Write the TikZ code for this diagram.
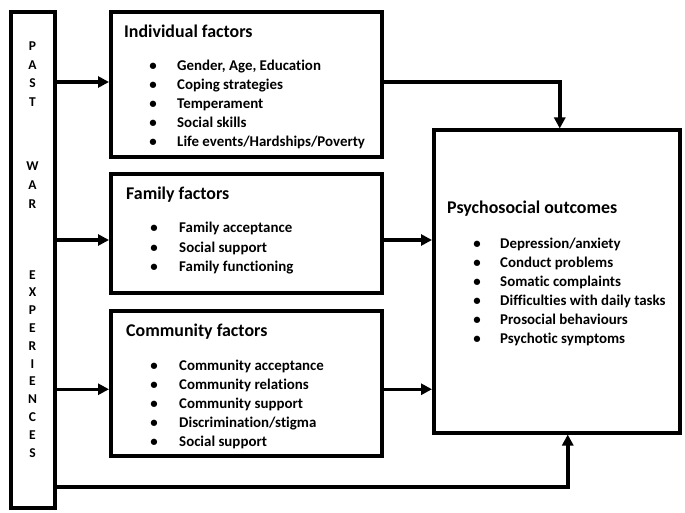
\documentclass[tikz,border=0pt]{standalone}
\usepackage{fontspec}
\setmainfont[Ligatures=NoCommon]{Carlito}
\usetikzlibrary{arrows.meta}

\tikzset{
  box/.style={draw, rectangle, line width=4pt, inner sep=0pt},
  flow/.style={line width=3.5pt, -{Triangle[length=11pt,width=11pt]}},
  heading/.style={anchor=base west, inner sep=0pt, font=\bfseries\fontsize{17.9}{21}\selectfont},
  entry/.style={anchor=base west, inner sep=0pt, font=\bfseries\fontsize{14.9}{18}\selectfont},
  dot/.style={anchor=base, inner sep=0pt, font=\bfseries\fontsize{14.9}{18}\selectfont},
  letter/.style={anchor=base, inner sep=0pt, font=\bfseries\fontsize{13.5}{15}\selectfont}
}

\begin{document}
\begin{tikzpicture}[x=1pt,y=-1pt]
\useasboundingbox (0,0) rectangle (685,513);

% boxes
\node[box, minimum width=44pt, minimum height=495pt] (past) at (32.5,260) {};
\node[box, minimum width=271pt, minimum height=145pt] (indiv) at (246.5,85) {};
\node[box, minimum width=271pt, minimum height=118pt] (family) at (246.5,233.5) {};
\node[box, minimum width=271pt, minimum height=145.5pt] (comm) at (246.5,383.25) {};
\node[box, minimum width=245.5pt, minimum height=302pt] (outcome) at (556.75,281.5) {};

% left column
\foreach \l [count=\i] in {P,A,S,T}
  \node[letter] (past-\i) at (32.5,{51+18.5*(\i-1)}) {\l};
\foreach \l [count=\i] in {W,A,R}
  \node[letter] (war-\i) at (32.5,{171+18.5*(\i-1)}) {\l};
\foreach \l [count=\i] in {E,X,P,E,R,I,E,N,C,E,S}
  \node[letter] (exp-\i) at (32.5,{279+17.8*(\i-1)}) {\l};

% individual
\node[heading] (indiv-title) at (124,38) {Individual factors};
\foreach \t [count=\i] in {{Gender, Age, Education},Coping strategies,Temperament,Social skills,Life events/Hardships/Poverty} {
  \node[dot] (indiv-b\i) at (153,{71+19*(\i-1)}) {\textbullet};
  \node[entry] (indiv-\i) at (177,{71+19*(\i-1)}) {\t};
}

% family
\node[heading] (family-title) at (126,200) {Family factors};
\foreach \t [count=\i] in {Family acceptance,Social support,Family functioning} {
  \node[dot] (family-b\i) at (154,{233+19*(\i-1)}) {\textbullet};
  \node[entry] (family-\i) at (179,{233+19*(\i-1)}) {\t};
}

% community
\node[heading] (comm-title) at (126,336) {Community factors};
\foreach \t [count=\i] in {Community acceptance,Community relations,Community support,Discrimination/stigma,Social support} {
  \node[dot] (comm-b\i) at (154,{370+19*(\i-1)}) {\textbullet};
  \node[entry] (comm-\i) at (179,{370+19*(\i-1)}) {\t};
}

% outcomes
\node[heading] (outcome-title) at (447,214) {Psychosocial outcomes};
\foreach \t [count=\i] in {Depression/anxiety,Conduct problems,Somatic complaints,Difficulties with daily tasks,Prosocial behaviours,Psychotic symptoms} {
  \node[dot] (outcome-b\i) at (477,{248+19*(\i-1)}) {\textbullet};
  \node[entry] (outcome-\i) at (500,{248+19*(\i-1)}) {\t};
}

% arrows
\coordinate (indiv-in) at ([yshift=3pt]indiv.west);
\coordinate (family-in) at ([yshift=-6.5pt]family.west);
\coordinate (comm-in) at ([yshift=-6pt]comm.west);
\coordinate (indiv-out) at ([yshift=3pt]indiv.east);
\coordinate (family-out) at ([yshift=-6.5pt]family.east);
\coordinate (comm-out) at ([yshift=-6pt]comm.east);
\coordinate (past-out) at ([yshift=-227pt]past.east);
\draw[flow] (past.east |- indiv-in) -- (indiv-in);
\draw[flow] (past.east |- family-in) -- (family-in);
\draw[flow] (past.east |- comm-in) -- (comm-in);
\draw[flow] (indiv-out) -| ([xshift=3pt]outcome.north);
\draw[flow] (family-out) -- (outcome.west |- family-out);
\draw[flow] (comm-out) -- (outcome.west |- comm-out);
\draw[flow] (past-out) -| ([xshift=11pt]outcome.south);
\end{tikzpicture}
\end{document}
